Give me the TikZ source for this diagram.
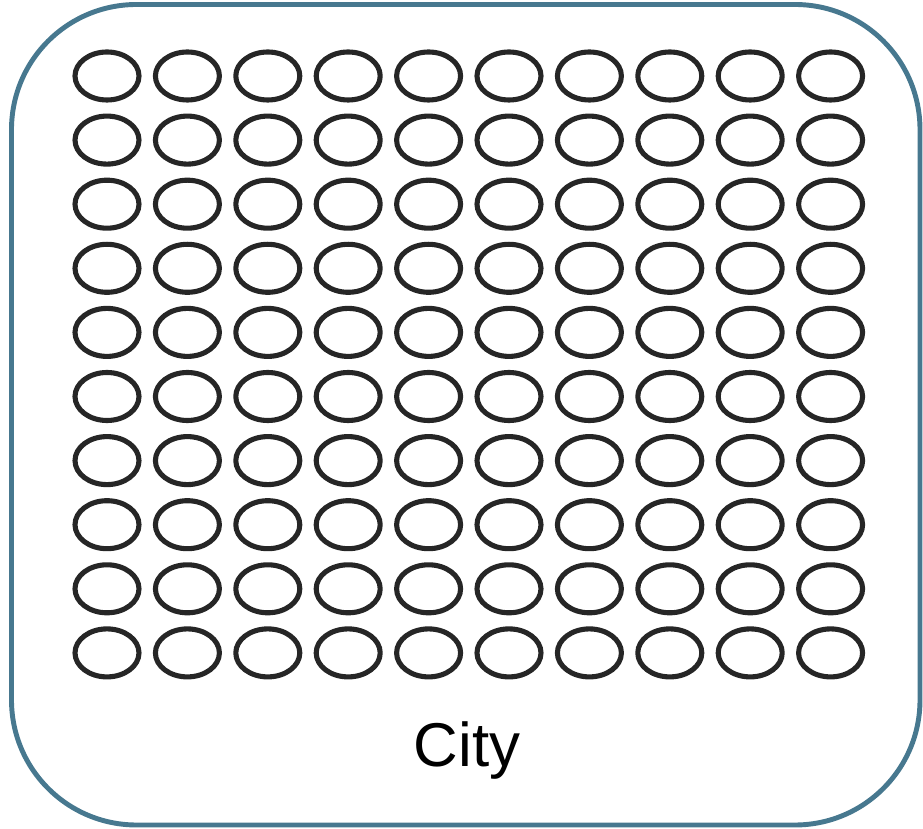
\documentclass[tikz,border=0pt]{standalone}
\usepackage{fontspec}
\setmainfont{Liberation Sans}
\usetikzlibrary{positioning}
\definecolor{ink}{HTML}{262626}
\definecolor{citycol}{HTML}{47788F}

\begin{document}
\begin{tikzpicture}[
  line cap=round, line join=round,
  city/.style={draw=citycol, line width=1.4pt, rounded corners=1.25cm},
  home/.style={draw=ink, line width=1.45pt},
  lbl/.style={font=\fontsize{17.6}{20}\selectfont, text=black, anchor=base}]

\useasboundingbox (0,0) rectangle (9.23,-8.29);

\def\xo{1.07}     % first column
\def\yo{-0.76}    % first row
\def\dx{0.804}    % column step
\def\dy{0.641}    % row step

% ---------------------------------------------------------------- frame
\draw[city] (0.115,-0.045) rectangle (9.20,-8.25);

% ---------------------------------------------------------------- grid of homes
\foreach \i in {0,...,9}
  \foreach \j in {0,...,9}
    \draw[home] ({\xo+\i*\dx},{\yo-\j*\dy}) ellipse (0.32cm and 0.24cm);

% ---------------------------------------------------------------- label
\node[lbl] (citylbl) at (4.67,-7.67) {City};

\end{tikzpicture}
\end{document}
